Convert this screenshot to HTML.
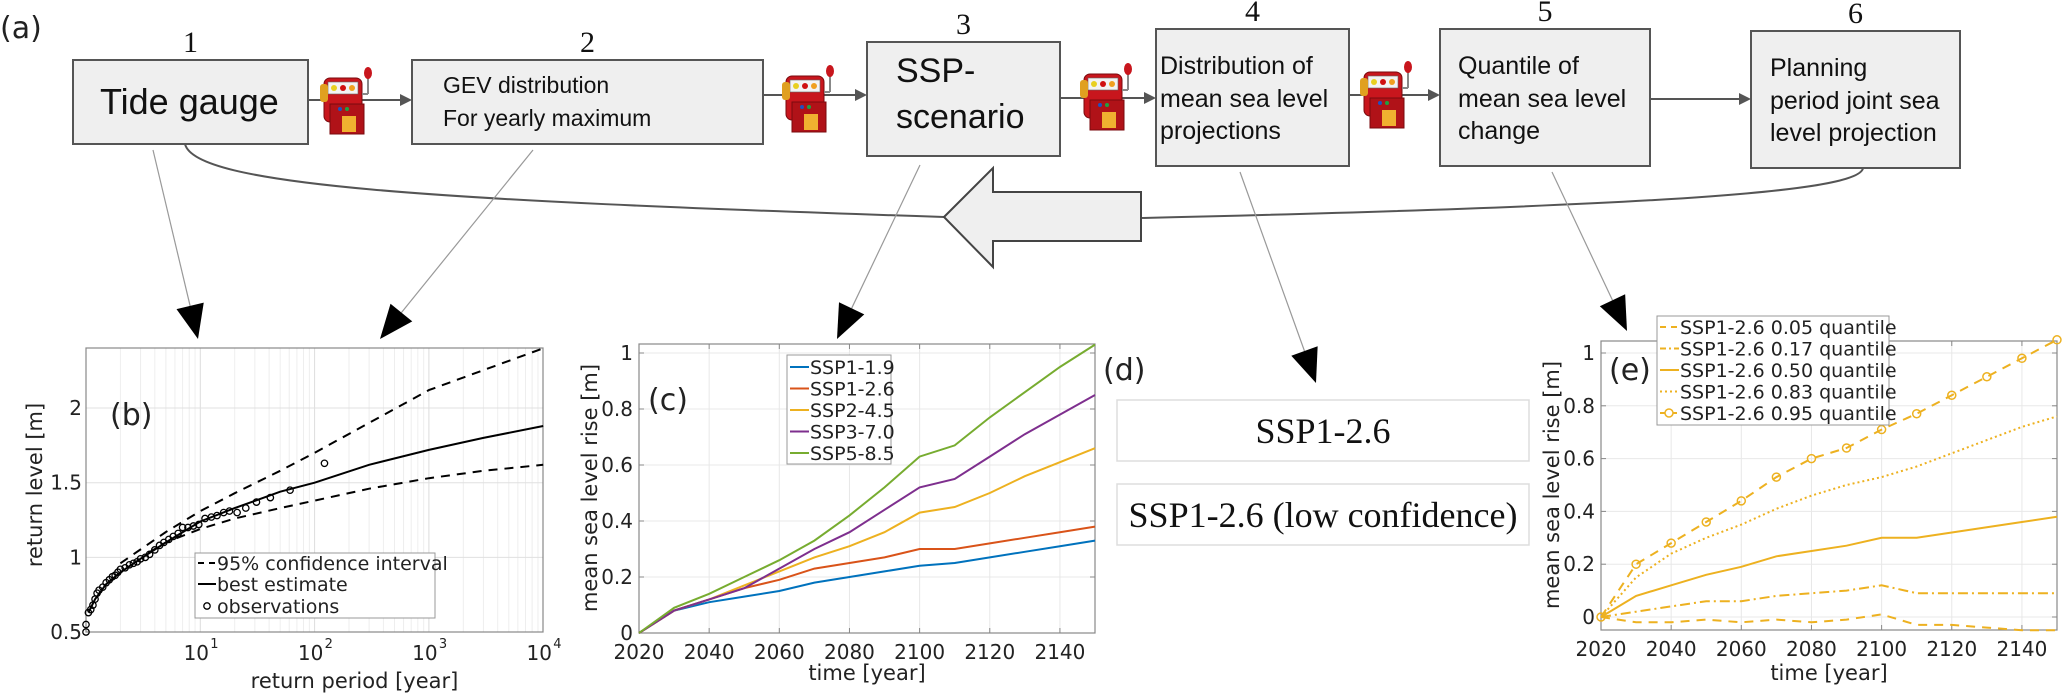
<!DOCTYPE html>
<html><head><meta charset="utf-8"><title>Sea level workflow figure</title>
<style>
html,body{margin:0;padding:0;background:#fff;}
svg{display:block;}
.flow{font-family:"Liberation Sans",Arial,sans-serif;fill:#111;}
.num{font-family:"Liberation Serif",serif;fill:#111;}
.ax{font-family:"DejaVu Sans","Liberation Sans",sans-serif;fill:#222;}
</style></head>
<body>
<svg id="fig" width="2067" height="696" viewBox="0 0 2067 696" xmlns="http://www.w3.org/2000/svg">
<defs>
<g id="slot">
  <rect x="4" y="10" width="38" height="44" rx="6" fill="#c8161d" stroke="#7a0a0e" stroke-width="1"/>
  <rect x="8" y="14" width="30" height="12" fill="#f3f3f3" stroke="#666" stroke-width="0.6"/>
  <circle cx="14" cy="20" r="3" fill="#e8d020"/><circle cx="23" cy="20" r="3" fill="#d01010"/><circle cx="32" cy="20" r="3" fill="#f0a020"/>
  <rect x="0" y="16" width="8" height="18" rx="3" fill="#e0a020"/>
  <rect x="10" y="36" width="34" height="30" fill="#b01218" stroke="#7a0a0e" stroke-width="1"/>
  <rect x="22" y="48" width="14" height="16" fill="#f0b030"/>
  <circle cx="20" cy="41" r="2" fill="#2050c0"/><circle cx="27" cy="41" r="2" fill="#20a040"/>
  <line x1="42" y1="26" x2="48" y2="26" stroke="#888" stroke-width="2"/>
  <line x1="48" y1="26" x2="48" y2="6" stroke="#888" stroke-width="2"/>
  <ellipse cx="48" cy="5" rx="4" ry="6" fill="#c8161d"/>
</g>
</defs>
<g id="flowchart"></g>
<g id="panelB"></g>
<g id="panelC"></g>
<g id="panelD"></g>
<g id="panelE"></g>
</svg>
<script>
// ---------- Panel (b) data ----------
const bBestT = [1.05,1.2,1.5,2,3,5,10,20,50,100,300,1000,3000,10000];
const bBest  = [0.63,0.72,0.82,0.9,0.99,1.1,1.24,1.33,1.44,1.5,1.62,1.72,1.8,1.88];
const bUpT   = [2,5,10,20,50,100,1000,10000];
const bUp    = [0.96,1.17,1.31,1.43,1.58,1.70,2.12,2.4];
const bLowT  = [3.5,5,10,20,50,100,300,1000,3000,10000];
const bLow   = [1.03,1.1,1.19,1.26,1.33,1.38,1.46,1.53,1.58,1.62];
const bObsT  = [1.0,1.0,1.05,1.1,1.15,1.2,1.25,1.3,1.4,1.5,1.6,1.7,1.8,1.9,2.0,2.2,2.4,2.6,2.8,3.0,3.3,3.6,4.0,4.4,4.8,5.3,5.8,6.4,7.0,7.8,8.7,9.7,11,12.5,14,16,18,21,25,31,41,61,122];
const bObs   = [0.5,0.55,0.63,0.65,0.68,0.72,0.76,0.78,0.8,0.83,0.85,0.87,0.88,0.9,0.92,0.93,0.95,0.96,0.97,0.99,1.0,1.02,1.05,1.08,1.1,1.12,1.14,1.16,1.2,1.2,1.21,1.22,1.26,1.27,1.28,1.3,1.31,1.3,1.33,1.37,1.4,1.45,1.63];
const bYTicks = [0.5,1,1.5,2];
const bYTickLabels = ["0.5","1","1.5","2"];
const bXTickExp = ["1","2","3","4"];

// ---------- Panel (c) data ----------
const cYears = [2020,2030,2040,2050,2060,2070,2080,2090,2100,2110,2120,2130,2140,2150];
const cSSP119 = [0,0.08,0.11,0.13,0.15,0.18,0.20,0.22,0.24,0.25,0.27,0.29,0.31,0.33];
const cSSP126 = [0,0.08,0.12,0.16,0.19,0.23,0.25,0.27,0.30,0.30,0.32,0.34,0.36,0.38];
const cSSP245 = [0,0.08,0.12,0.17,0.22,0.27,0.31,0.36,0.43,0.45,0.50,0.56,0.61,0.66];
const cSSP370 = [0,0.08,0.12,0.16,0.23,0.30,0.36,0.44,0.52,0.55,0.63,0.71,0.78,0.85];
const cSSP585 = [0,0.09,0.14,0.20,0.26,0.33,0.42,0.52,0.63,0.67,0.77,0.86,0.95,1.03];
const cNames = ["SSP1-1.9","SSP1-2.6","SSP2-4.5","SSP3-7.0","SSP5-8.5"];
const cXTicks = [2020,2040,2060,2080,2100,2120,2140];
const cYTicks = [0,0.2,0.4,0.6,0.8,1];
const cYTickLabels = ["0","0.2","0.4","0.6","0.8","1"];

// ---------- Panel (e) data ----------
const eYears = [2020,2030,2040,2050,2060,2070,2080,2090,2100,2110,2120,2130,2140,2150];
const eQ05 = [0,-0.02,-0.02,-0.01,-0.02,-0.01,-0.02,-0.01,0.01,-0.03,-0.03,-0.04,-0.05,-0.05];
const eQ17 = [0,0.02,0.04,0.06,0.06,0.08,0.09,0.10,0.12,0.09,0.09,0.09,0.09,0.09];
const eQ50 = [0,0.08,0.12,0.16,0.19,0.23,0.25,0.27,0.30,0.30,0.32,0.34,0.36,0.38];
const eQ83 = [0,0.15,0.24,0.30,0.35,0.41,0.46,0.50,0.53,0.57,0.62,0.67,0.72,0.76];
const eQ95 = [0,0.20,0.28,0.36,0.44,0.53,0.60,0.64,0.71,0.77,0.84,0.91,0.98,1.05];
const eNames = ["SSP1-2.6 0.05 quantile","SSP1-2.6 0.17 quantile","SSP1-2.6 0.50 quantile","SSP1-2.6 0.83 quantile","SSP1-2.6 0.95 quantile"];
const eXTicks = [2020,2040,2060,2080,2100,2120,2140];
const eYTicks = [0,0.2,0.4,0.6,0.8,1];
const eYTickLabels = ["0","0.2","0.4","0.6","0.8","1"];

const NS = "http://www.w3.org/2000/svg";
function mk(tag, attrs, parent){ const e=document.createElementNS(NS,tag); for(const k in attrs) e.setAttribute(k,attrs[k]); if(parent) parent.appendChild(e); return e; }
function txt(parent, x, y, s, cls, size, anchor, extra){ const t=mk('text',Object.assign({x:x,y:y,'class':cls,'font-size':size,'text-anchor':anchor||'start'},extra||{}),parent); t.textContent=s; return t; }
function path(pts){ return pts.map((p,i)=>(i?'L':'M')+p[0].toFixed(1)+' '+p[1].toFixed(1)).join(' '); }

// ================= FLOWCHART =================
const F = document.getElementById('flowchart');
let t = txt(F, 0, 38, "(a)", "ax", 30);
 
const boxes = [
 {x:73,y:60,w:235,h:84,n:"1",lines:["Tide gauge"],fs:36,tx:100,ly:[114]},
 {x:412,y:60,w:351,h:84,n:"2",lines:["GEV distribution","For yearly maximum"],fs:23,tx:443,ly:[93,126]},
 {x:867,y:42,w:193,h:114,n:"3",lines:["SSP-","scenario"],fs:34,tx:896,ly:[82,128]},
 {x:1156,y:29,w:193,h:137,n:"4",lines:["Distribution of","mean sea level","projections"],fs:25,tx:1160,ly:[74,107,139]},
 {x:1440,y:29,w:210,h:137,n:"5",lines:["Quantile of","mean sea level","change"],fs:25,tx:1458,ly:[74,107,139]},
 {x:1751,y:31,w:209,h:137,n:"6",lines:["Planning","period joint sea","level projection"],fs:25,tx:1770,ly:[76,109,141]}
];
boxes.forEach((b,i)=>{
  const g = mk('g',{},F);
  
  
  mk('rect',{x:b.x,y:b.y,width:b.w,height:b.h,fill:'#efefef',stroke:'#555','stroke-width':2},g);
  const nn = txt(g, b.x+b.w/2, b.y-8, b.n, 'num', 30, 'middle');
  
  
  b.lines.forEach((l,j)=>{ txt(g, b.tx, b.ly[j], l, 'flow', b.fs, 'start'); });
});
const conns = [[308,412,100],[763,867,95],[1060,1156,98],[1349,1440,95],[1650,1751,99]];
conns.forEach((c,i)=>{
  const g = mk('g',{},F);
  
  
  mk('line',{x1:c[0],y1:c[2],x2:c[1]-10,y2:c[2],stroke:'#555','stroke-width':2},g);
  mk('polygon',{points:`${c[1]},${c[2]} ${c[1]-12},${c[2]-6} ${c[1]-12},${c[2]+6}`,fill:'#555'},g);
});
[[320,68],[782,66],[1080,64],[1360,62]].forEach((p,i)=>{
  const u = mk('use',{href:'#slot',x:p[0],y:p[1]},F);
  
  
});
let cv = mk('path',{d:'M185 144 C195 185, 420 200, 944 217',fill:'none',stroke:'#555','stroke-width':2},F);
 
cv = mk('path',{d:'M1863 168 C1860 190, 1700 205, 1141 218',fill:'none',stroke:'#555','stroke-width':2},F);
 
let ba = mk('polygon',{points:'944,217 993,168 993,192 1141,192 1141,241 993,241 993,267',fill:'#efefef',stroke:'#444','stroke-width':2},F);
 
const ptrs = [[153,150,198,339],[533,150,380,339],[920,165,837,339],[1240,172,1316,383],[1552,172,1627,331]];
ptrs.forEach((p,i)=>{
  const g = mk('g',{},F);
  
  
  const dx=p[2]-p[0], dy=p[3]-p[1], L=Math.hypot(dx,dy), ux=dx/L, uy=dy/L;
  const bx=p[2]-ux*34, by=p[3]-uy*34;
  mk('line',{x1:p[0],y1:p[1],x2:bx,y2:by,stroke:'#999','stroke-width':1.2},g);
  mk('polygon',{points:`${p[2]},${p[3]} ${bx-uy*14},${by+ux*14} ${bx+uy*14},${by-ux*14}`,fill:'#000'},g);
});

// ================= PANEL B =================
const B = document.getElementById('panelB');
const bL=86,bR=543,bT=348,bBt=632, bYmin=0.5, bYpx=149.3, bDec=114.3;
const bx = T => bL + Math.log10(T)*bDec;
const by = v => bBt - (v-bYmin)*bYpx;
mk('rect',{x:bL,y:bT,width:bR-bL,height:bBt-bT,fill:'#fff'},B);
const bg = mk('g',{stroke:'#e6e6e6','stroke-width':1},B);
 
for(let d=0; d<4; d++){ for(let k=1;k<10;k++){ const X=bx(k*Math.pow(10,d)); mk('line',{x1:X,y1:bT,x2:X,y2:bBt,stroke:k==1?'#dcdcdc':'#eeeeee'},bg);} }
bYTicks.forEach(v=>mk('line',{x1:bL,y1:by(v),x2:bR,y2:by(v),stroke:'#e0e0e0'},bg));
mk('rect',{x:bL,y:bT,width:bR-bL,height:bBt-bT,fill:'none',stroke:'#888','stroke-width':1.2},B);
bYTicks.forEach((v,i)=>{ const tt=txt(B,bL-4,by(v)+7,bYTickLabels[i],'ax',20,'end');   });
bXTickExp.forEach((e,i)=>{ const X=bx(Math.pow(10,+e)); const tt=txt(B,X-4,660,'10','ax',20,'middle');   const s=txt(B,X+10,648,e,'ax',13,'start');   });
t=txt(B,(bL+bR)/2+40,688,'return period [year]','ax',21,'middle');  
t=txt(B,0,0,'return level [m]','ax',21,'middle',{transform:`translate(42,${(bT+bBt)/2-5}) rotate(-90)`});  
t=txt(B,110,425,'(b)','ax',30);  
let s = mk('path',{d:path(bUpT.map((T,i)=>[bx(T),by(bUp[i])])),fill:'none',stroke:'#000','stroke-width':2,'stroke-dasharray':'9 7'},B);
 
s = mk('path',{d:path(bLowT.map((T,i)=>[bx(T),by(bLow[i])])),fill:'none',stroke:'#000','stroke-width':2,'stroke-dasharray':'9 7'},B);
 
s = mk('path',{d:path(bBestT.map((T,i)=>[bx(T),by(bBest[i])])),fill:'none',stroke:'#000','stroke-width':2},B);
 
const og = mk('g',{},B);
 
bObsT.forEach((T,i)=>{ const c=mk('circle',{cx:bx(T),cy:by(bObs[i]),r:3.2,fill:'none',stroke:'#000','stroke-width':1.3},og);   });
const bl = mk('g',{},B);
 
mk('rect',{x:195,y:553,width:240,height:65,fill:'#fff',stroke:'#999','stroke-width':1},bl);
mk('line',{x1:198,y1:563,x2:216,y2:563,stroke:'#000','stroke-width':2,'stroke-dasharray':'6 5'},bl);
mk('line',{x1:198,y1:584,x2:216,y2:584,stroke:'#000','stroke-width':2},bl);
mk('circle',{cx:207,cy:606,r:3.2,fill:'none',stroke:'#000','stroke-width':1.3},bl);
txt(bl,217,570,'95% confidence interval','ax',19); txt(bl,217,591,'best estimate','ax',19); txt(bl,217,613,'observations','ax',19);

// ============== generic time panel ==============
function timePanel(G, L, R, T, Bt, y0px, unitPx, x0year, pxPerYear, xticks, yticks, ylabels, pre){
  const X = yr => L + (yr-x0year)*pxPerYear;
  const Y = v => y0px - v*unitPx;
  mk('rect',{x:L,y:T,width:R-L,height:Bt-T,fill:'#fff'},G);
  const gg = mk('g',{stroke:'#e8e8e8','stroke-width':1},G);
   
  xticks.forEach(v=>mk('line',{x1:X(v),y1:T,x2:X(v),y2:Bt},gg));
  yticks.forEach(v=>mk('line',{x1:L,y1:Y(v),x2:R,y2:Y(v)},gg));
  mk('rect',{x:L,y:T,width:R-L,height:Bt-T,fill:'none',stroke:'#888','stroke-width':1.2},G);
  const tk = mk('g',{stroke:'#888','stroke-width':1},G);
  xticks.forEach(v=>{ mk('line',{x1:X(v),y1:T,x2:X(v),y2:T+5},tk); mk('line',{x1:X(v),y1:Bt,x2:X(v),y2:Bt-5},tk); });
  yticks.forEach(v=>{ mk('line',{x1:R,y1:Y(v),x2:R-5,y2:Y(v)},tk); mk('line',{x1:L,y1:Y(v),x2:L+5,y2:Y(v)},tk); });
  xticks.forEach(v=>{ const tt=txt(G,X(v),Bt+26,String(v),'ax',20,'middle');   });
  yticks.forEach((v,i)=>{ const tt=txt(G,L-6,Y(v)+7,ylabels[i],'ax',20,'end');   });
  return {X,Y};
}

// ================= PANEL C =================
const C = document.getElementById('panelC');
const cax = timePanel(C,639,1095,344,633,633,280,2020,456/130,cXTicks,cYTicks,cYTickLabels,'c');
t=txt(C,867,680,'time [year]','ax',21,'middle');  
t=txt(C,0,0,'mean sea level rise [m]','ax',21,'middle',{transform:'translate(597,488) rotate(-90)'});  
t=txt(C,648,410,'(c)','ax',30);  
const cSeries = [cSSP119,cSSP126,cSSP245,cSSP370,cSSP585];
const cColors = ['#0072BD','#D95319','#EDB120','#7E2F8E','#77AC30'];
cSeries.forEach((arr,i)=>{ const p=mk('path',{d:path(cYears.map((yr,j)=>[cax.X(yr),cax.Y(arr[j])])),fill:'none',stroke:cColors[i],'stroke-width':2},C);   });
const cl = mk('g',{},C);
 
mk('rect',{x:787,y:355,width:104,height:109,fill:'#fff',stroke:'#999','stroke-width':1},cl);
cNames.forEach((n,i)=>{ const yy=367+i*21.5; mk('line',{x1:790,y1:yy,x2:809,y2:yy,stroke:cColors[i],'stroke-width':2},cl); txt(cl,810,yy+7,n,'ax',19); });

// ================= PANEL D =================
const D = document.getElementById('panelD');
t=txt(D,1103,380,'(d)','ax',30);  
let dg = mk('g',{},D);
 
mk('rect',{x:1117,y:400,width:412,height:61,fill:'#fff',stroke:'#ddd','stroke-width':1.5},dg);
txt(dg,1323,443,'SSP1-2.6','num',36,'middle');
dg = mk('g',{},D);
 
mk('rect',{x:1117,y:484,width:412,height:61,fill:'#fff',stroke:'#ddd','stroke-width':1.5},dg);
txt(dg,1323,527,'SSP1-2.6 (low confidence)','num',36,'middle');

// ================= PANEL E =================
const E = document.getElementById('panelE');
const eax = timePanel(E,1601,2057,341,630,617,264,2020,456/130,eXTicks,eYTicks,eYTickLabels,'e');
t=txt(E,1829,680,'time [year]','ax',21,'middle');  
t=txt(E,0,0,'mean sea level rise [m]','ax',21,'middle',{transform:'translate(1559,485) rotate(-90)'});  
t=txt(E,1609,380,'(e)','ax',30);  
const eSeries = [eQ05,eQ17,eQ50,eQ83,eQ95];
const eDash = ['9 7','10 4 2 4','none','2 3','9 7'];
const eCol = '#EDB120';
eSeries.forEach((arr,i)=>{
  const p=mk('path',{d:path(eYears.map((yr,j)=>[eax.X(yr),eax.Y(arr[j])])),fill:'none',stroke:eCol,'stroke-width':2},E);
  if(eDash[i]!=='none') p.setAttribute('stroke-dasharray',eDash[i]);
  
  
});
const em = mk('g',{},E);
 
eYears.forEach((yr,j)=>{ const c=mk('circle',{cx:eax.X(yr),cy:eax.Y(eQ95[j]),r:4,fill:'none',stroke:eCol,'stroke-width':1.5},em);   });
const el = mk('g',{},E);
 
mk('rect',{x:1657,y:316,width:232,height:109,fill:'#fff',stroke:'#999','stroke-width':1},el);
eNames.forEach((n,i)=>{ const yy=327+i*21.5; const ln=mk('line',{x1:1660,y1:yy,x2:1679,y2:yy,stroke:eCol,'stroke-width':2},el); if(eDash[i]!=='none') ln.setAttribute('stroke-dasharray',i==3?'2 3':(i==1?'6 3 2 3':'6 5')); if(i==4) mk('circle',{cx:1669,cy:yy,r:4,fill:'#fff',stroke:eCol,'stroke-width':1.5},el); txt(el,1680,yy+7,n,'ax',19); });
</script>
</body></html>
